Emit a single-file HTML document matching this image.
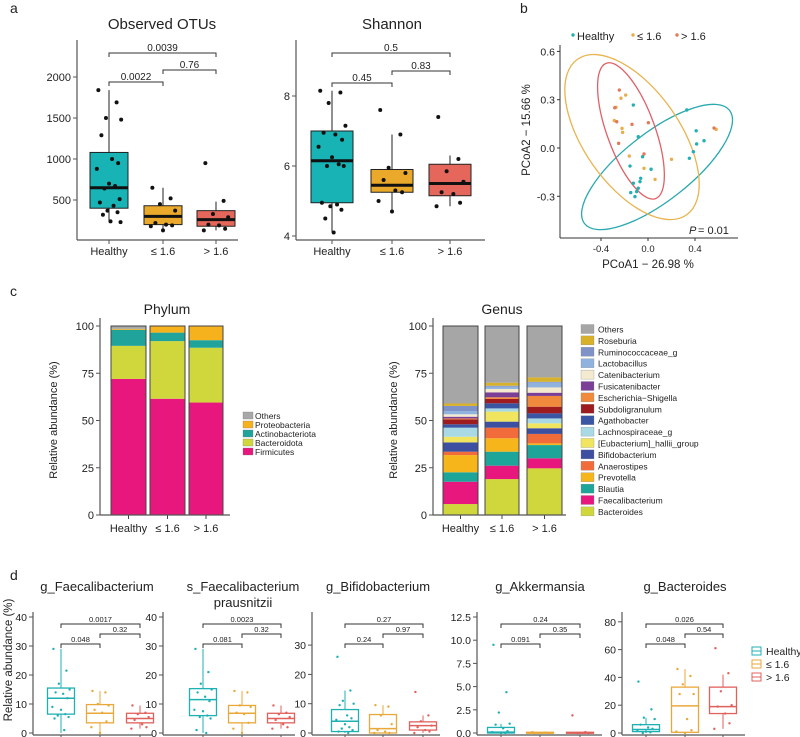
<!DOCTYPE html>
<html><head><meta charset="utf-8"><style>
html,body{margin:0;padding:0;background:#fff;}
svg{display:block;font-family:"Liberation Sans",Arial,sans-serif;}
</style></head>
<body>
<svg id="fig" width="800" height="737" viewBox="0 0 800 737" xmlns="http://www.w3.org/2000/svg"></svg>
<script>
// ---------- Panel a data ----------
const aGroups = ["Healthy", "≤ 1.6", "> 1.6"];
const otuStats = [[230,400,650,1080,1840],[130,200,300,430,650],[130,180,260,370,480]];
const otuPts = [[1840,1690,1500,1480,1290,1000,950,880,700,670,640,510,470,430,370,350,320,240,230],[650,520,450,370,220,200,190,180,130],[950,490,330,290,200,190,150,130]];
const otuTicks = [500,1000,1500,2000];
const otuBrackets = [[0,2,"0.0039"],[1,2,"0.76"],[0,1,"0.0022"]];
const shStats = [[4.1,4.95,6.15,7.0,8.15],[4.7,5.25,5.45,5.9,6.9],[4.85,5.15,5.5,6.05,6.3]];
const shPts = [[8.15,8.1,7.8,7.15,6.95,6.9,6.75,6.55,6.25,6.05,6.0,6.0,4.95,4.9,4.85,4.75,4.5,4.1],[7.6,6.9,5.95,5.8,5.6,5.3,5.25,5.0,4.7],[7.4,6.2,5.85,5.55,5.25,5.2,4.95,4.85]];
const shTicks = [4,6,8];
const shBrackets = [[0,2,"0.5"],[1,2,"0.83"],[0,1,"0.45"]];
// ---------- Panel b data ----------
const pcoaHealthy = [[-0.125,0.267],[0.33,0.236],[-0.083,0.07],[0.41,0.107],[0.414,0.025],[0.477,0.045],[0.386,-0.023],[0.352,-0.064],[-0.046,-0.054],[-0.153,-0.112],[0.026,-0.132],[-0.062,-0.188],[-0.125,-0.219],[-0.068,-0.209],[-0.083,-0.25],[-0.147,-0.277],[-0.111,-0.302],[-0.097,-0.271]];
const pcoaLow = [[-0.23,0.309],[-0.19,0.329],[-0.272,0.253],[-0.287,0.17],[-0.221,0.122],[-0.216,0.097],[-0.159,-0.05],[0.2,-0.07],[0.06,-0.195],[-0.034,-0.126],[0.58,0.116]];
const pcoaHigh = [[-0.244,0.36],[-0.25,0.029],[-0.136,0.147],[0.003,0.157],[-0.034,-0.037],[-0.266,0.163],[0.562,0.124],[-0.283,0.25]];
const pcoaXTicks = [-0.4,0.0,0.4];
const pcoaYTicks = [-0.3,0.0,0.3,0.6];
const ellipseCenters = [[0.077,-0.118],[-0.136,0.068],[-0.145,0.106]];
// ---------- Panel c data ----------
const phylumNames = ["Firmicutes","Bacteroidota","Actinobacteriota","Proteobacteria","Others"];
const phylumVals = [[72,17.5,8.5,0.5,1.5],[61.5,30.5,4.5,3.5,0],[59.5,29,4,7.5,0]];
const genusNames = ["Bacteroides","Faecalibacterium","Blautia","Prevotella","Anaerostipes","Bifidobacterium","[Eubacterium]_hallii_group","Lachnospiraceae_g","Agathobacter","Subdoligranulum","Escherichia−Shigella","Fusicatenibacter","Catenibacterium","Lactobacillus","Ruminococcaceae_g","Roseburia","Others"];
const genusVals = [
 [5.8,11.8,5,9.1,1.8,4.9,3,4.8,1.8,2.6,0.5,0.9,1.3,1.7,2.7,1.3,41],
 [19,7.1,7.4,7.1,5.6,3.2,5.3,1.7,2.7,2.3,0.9,2.6,1.8,1.2,0.5,1.6,30],
 [24.7,5.3,7,0.9,5,3,2.6,2.6,2.7,3.5,5.7,1.7,2.8,2.5,0.5,2.3,27.2]];
const stackTicks = [0,25,50,75,100];
// ---------- Panel d data ----------
const dTitles = [["g_Faecalibacterium"],["s_Faecalibacterium","prausnitzii"],["g_Bifidobacterium"],["g_Akkermansia"],["g_Bacteroides"]];
const dStats = [
 [[0,6.5,12,15.5,29],[0,3.5,6.8,9.8,14.5],[1.5,3.5,5,6.8,9.5]],
 [[0,6,11.5,15.3,29],[0,3.5,6.8,9.5,14.5],[1.5,3.5,5,6.8,9.5]],
 [[0,0.5,4,8,14.5],[0,0,1.5,6.3,9.5],[0,1,2.5,3.8,6]],
 [[0,0,0.1,0.6,1],[0,0,0.02,0.08,0.1],[0,0,0.02,0.08,0.1]],
 [[0,1,2.5,6,11],[0,0.5,19.5,33,46],[3,14,19,33,42]]];
const dPts = [
 [[29,21.5,17,15,14,13.5,12,9,8,6.5,6,5.5,5,1],[14.5,14,10,9.5,8,7,4,2,0],[9.5,7,6.5,5.5,4.5,3,2,1.5]],
 [[29,21,17,15,14,12.5,11,8,7.5,6,5.5,5,1,0],[14.5,14,9.5,9,7,6.5,3.5,1.5,0],[9.5,7,6.5,5.5,4.5,3,2,1.5]],
 [[26,14.5,11,10,9.5,6,5,4.5,3,2,1.5,1,0.5,0],[9.5,9,6,3,1,0.5,0,0],[14,6,4,2.5,2,1,0.5,0]],
 [[9.5,4.4,2.2,1,0.9,0.5,0.2,0.1,0,0],[0.1,0.05,0,0,0],[1.9,0.1,0,0]],
 [[37,17,11,10,6,4,3,2,1,0.5,0],[46,41,35,28,28,10,2,1,0],[61,43,30,20,19,14,7,3]]];
const dTicks = [[0,10,20,30,40],[0,10,20,30,40],[0,10,20,30],[0,2.5,5,7.5,10,12.5],[0,20,40,60,80]];
const dTickLabels = [["0","10","20","30","40"],["0","10","20","30","40"],["0","10","20","30"],["0.0","2.5","5.0","7.5","10.0","12.5"],["0","20","40","60","80"]];
const dBrackets = [
 [[0,2,"0.0017"],[1,2,"0.32"],[0,1,"0.048"]],
 [[0,2,"0.0023"],[1,2,"0.32"],[0,1,"0.081"]],
 [[0,2,"0.27"],[1,2,"0.97"],[0,1,"0.24"]],
 [[0,2,"0.24"],[1,2,"0.35"],[0,1,"0.091"]],
 [[0,2,"0.026"],[1,2,"0.54"],[0,1,"0.048"]]];

// ---------- helpers ----------
const NS = "http://www.w3.org/2000/svg";
const svg = document.getElementById('fig');
function mk(tag, attrs, parent, name) {
  const el = document.createElementNS(NS, tag);
  for (const k in attrs) el.setAttribute(k, attrs[k]);
  
  
  parent.appendChild(el);
  return el;
}
function txt(s, x, y, size, anchor, parent, name, extra) {
  const a = {x: x, y: y, 'font-size': size, 'text-anchor': anchor || 'middle', fill: '#222'};
  if (extra) for (const k in extra) a[k] = extra[k];
  const t = mk('text', a, parent, name);
  t.textContent = s;
  return t;
}
const jit = [-0.35,0.25,-0.1,0.4,-0.25,0.1,0.3,-0.4,0.0,0.2,-0.15,0.35,-0.3,0.15,-0.05,0.28,-0.2,0.05,0.38];
const groupCol = ['#17b3b5','#eaa92b','#e5675c'];
const groupLine = ['#1fb0b3','#e9a93a','#e0615c'];

function boxPanel(cfg, g) {
  const c = cfg;
  mk('line', {x1:c.ax, y1:c.top, x2:c.ax, y2:c.bot, stroke:'#555', 'stroke-width':1.2}, g, 'y-axis-line');
  mk('line', {x1:c.ax, y1:c.bot, x2:c.right, y2:c.bot, stroke:'#555', 'stroke-width':1.2}, g, 'x-axis-line');
  c.ticks.forEach((v,i) => {
    const y = c.y(v);
    mk('line', {x1:c.ax-4, y1:y, x2:c.ax, y2:y, stroke:'#555'}, g, 'y-tick');
    txt(c.tickLabels ? c.tickLabels[i] : String(v), c.ax-6, y+4, c.tfs, 'end', g, 'y-tick-label');
  });
  c.xs.forEach((x,i) => {
    mk('line', {x1:x, y1:c.bot, x2:x, y2:c.bot+4, stroke:'#555'}, g, 'x-tick');
    if (c.xlab) txt(aGroups[i], x, c.bot+15, 11, 'middle', g, 'x-tick-label');
  });
  c.stats.forEach((s,i) => {
    const x = c.xs[i], w = c.bw;
    const st = c.filled ? '#222' : groupLine[i];
    mk('line', {x1:x, y1:c.y(s[0]), x2:x, y2:c.y(s[4]), stroke:st, 'stroke-width':1}, g, 'whisker');
    mk('rect', {x:x-w/2, y:c.y(s[3]), width:w, height:Math.max(1,c.y(s[1])-c.y(s[3])), fill:c.filled?groupCol[i]:'#fff', stroke:st, 'stroke-width':c.filled?1:1.3}, g, 'box-'+i);
    mk('line', {x1:x-w/2, y1:c.y(s[2]), x2:x+w/2, y2:c.y(s[2]), stroke:c.filled?'#111':groupLine[i], 'stroke-width':c.filled?3:1.5}, g, 'median-line');
  });
  c.pts.forEach((arr,i) => {
    arr.forEach((v,j) => {
      mk('circle', {cx:c.xs[i]+jit[j%jit.length]*c.bw*0.8, cy:c.y(v), r:c.pr, fill:c.filled?'#111':groupLine[i]}, g, 'data-point');
    });
  });
  c.brackets.forEach((b,k) => {
    const yb = c.by[k];
    const x1 = c.xs[b[0]], x2 = c.xs[b[1]];
    mk('path', {d:`M${x1} ${yb+4}V${yb}H${x2}V${yb+4}`, fill:'none', stroke:'#333', 'stroke-width':1}, g, 'significance-bracket');
    txt(b[2], (x1+x2)/2, yb-2, c.bfs, 'middle', g, 'p-value-label');
  });
}

// ---------- Panel a ----------
txt('a', 10, 13, 14, 'start', svg, 'panel-label-a');
const ga1 = mk('g', {}, svg, 'observed-otus-chart');
txt('Observed OTUs', 162, 29, 15, 'middle', ga1, 'chart-title');
boxPanel({ax:77, top:40, bot:240, right:238, y:v=>241-v*0.082, ticks:otuTicks, tfs:11, xs:[109,163,216], bw:38, stats:otuStats, pts:otuPts, filled:true, pr:2, brackets:otuBrackets, by:[53,70,82], bfs:10, xlab:true}, ga1);
const ga2 = mk('g', {}, svg, 'shannon-chart');
txt('Shannon', 392, 29, 15, 'middle', ga2, 'chart-title');
boxPanel({ax:296, top:40, bot:240, right:485, y:v=>236-(v-4)*35, ticks:shTicks, tfs:11, xs:[332,392,450], bw:42, stats:shStats, pts:shPts, filled:true, pr:2, brackets:shBrackets, by:[53,71,83], bfs:10, xlab:true}, ga2);

// ---------- Panel b ----------
txt('b', 520, 13, 14, 'start', svg, 'panel-label-b');
const gb = mk('g', {}, svg, 'pcoa-chart');
const px = v => 648 + v*117.5, py = v => 148 - v*161;
mk('line', {x1:560, y1:45, x2:560, y2:238, stroke:'#333'}, gb, 'y-axis-line');
mk('line', {x1:560, y1:238, x2:738, y2:238, stroke:'#333'}, gb, 'x-axis-line');
pcoaYTicks.forEach(v => {
  mk('line', {x1:557, y1:py(v), x2:560, y2:py(v), stroke:'#333'}, gb, 'y-tick');
  txt(v.toFixed(1), 555, py(v)+4, 10.5, 'end', gb, 'y-tick-label');
});
pcoaXTicks.forEach(v => {
  mk('line', {x1:px(v), y1:238, x2:px(v), y2:241, stroke:'#333'}, gb, 'x-tick');
  txt(v.toFixed(1), px(v), 252, 9.5, 'middle', gb, 'x-tick-label');
});
txt('PCoA1 − 26.98 %', 648, 268, 11.5, 'middle', gb, 'x-axis-title');
txt('PCoA2 − 15.66 %', 0, 0, 11.5, 'middle', gb, 'y-axis-title', {transform:'translate(530,130) rotate(-90)'});
txt('P', 689, 234, 11, 'start', gb, 'p-label', {'font-style':'italic'});
txt('= 0.01', 698, 234, 11, 'start', gb, 'p-value');
const ellShape = [[92,34,-38],[95,48,55],[72,24,70]];
const ellCol = ['#2aa9ae','#e8b44e','#e06067'];
ellipseCenters.forEach((c,i) => {
  const cx = px(c[0]), cy = py(c[1]);
  mk('ellipse', {cx:cx, cy:cy, rx:ellShape[i][0], ry:ellShape[i][1], transform:`rotate(${ellShape[i][2]} ${cx} ${cy})`, fill:'none', stroke:ellCol[i], 'stroke-width':1.3}, gb, 'confidence-ellipse');
});
[[pcoaHealthy,'#22b0b3'],[pcoaLow,'#e9ad4c'],[pcoaHigh,'#e07a5a']].forEach(([arr,col]) => {
  arr.forEach(p => {
    mk('circle', {cx:px(p[0]), cy:py(p[1]), r:1.7, fill:col}, gb, 'pcoa-point');
  });
});
const legB = [['Healthy',577,'#22b0b3'],['≤ 1.6',637,'#e9ad4c'],['> 1.6',681,'#e07a5a']];
legB.forEach(l => {
  mk('circle', {cx:l[1]-4, cy:35, r:1.7, fill:l[2]}, gb, 'legend-marker');
  txt(l[0], l[1], 40, 11, 'start', gb, 'legend-entry');
});

// ---------- Panel c ----------
txt('c', 10, 296, 14, 'start', svg, 'panel-label-c');
function stack(g, ax, right, bars, vals, cols, title, tx) {
  const y = v => 515 - v*1.89;
  txt(title, tx, 314, 14, 'middle', g, 'chart-title');
  vals.forEach((row,i) => {
    let acc = 0;
    row.forEach((v,k) => {
      if (v > 0) mk('rect', {x:bars[i][0], y:y(acc+v), width:bars[i][1]-bars[i][0], height:v*1.89, fill:cols[k]}, g, 'stack-segment');
      acc += v;
    });
    mk('rect', {x:bars[i][0], y:y(100), width:bars[i][1]-bars[i][0], height:100*1.89, fill:'none', stroke:'#444', 'stroke-width':1}, g, 'bar-outline');
    const cx = (bars[i][0]+bars[i][1])/2;
    mk('line', {x1:cx, y1:515, x2:cx, y2:519, stroke:'#444'}, g, 'x-tick');
    txt(aGroups[i], cx, 532, 11, 'middle', g, 'x-tick-label');
  });
  mk('line', {x1:ax, y1:318, x2:ax, y2:515, stroke:'#555', 'stroke-width':1.2}, g, 'y-axis-line');
  mk('line', {x1:ax, y1:515, x2:right, y2:515, stroke:'#555', 'stroke-width':1.2}, g, 'x-axis-line');
  stackTicks.forEach(v => {
    mk('line', {x1:ax-4, y1:y(v), x2:ax, y2:y(v), stroke:'#555'}, g, 'y-tick');
    txt(String(v), ax-6, y(v)+4, 11, 'end', g, 'y-tick-label');
  });
}
const phylumCols = ['#e8177d','#cfd73c','#20a39a','#f5b21d','#a8a8a8'];
const gc1 = mk('g', {}, svg, 'phylum-chart');
stack(gc1, 100, 230, [[111,146],[150,185],[189,223]], phylumVals, phylumCols, 'Phylum', 167);
txt('Relative abundance (%)', 0, 0, 11, 'middle', gc1, 'y-axis-title', {transform:'translate(57,420) rotate(-90)'});
phylumNames.slice().reverse().forEach((n,i) => {
  const yy = 416 + i*9;
  mk('rect', {x:243, y:yy-4, width:10, height:7, fill:phylumCols[4-i], stroke:'#777', 'stroke-width':0.3}, gc1, 'legend-swatch');
  txt(n, 255, yy+3, 8.5, 'start', gc1, 'legend-entry');
});
const genusCols = ['#cfd73c','#e8177d','#1ea59a','#f7b51c','#f26b3a','#3d4fa1','#f1e55f','#a9d9e4','#3a55a4','#9e1b20','#f08a3c','#7b3f98','#f3ead0','#8fb3de','#7f92c8','#d8b12a','#a6a6a6'];
const gc2 = mk('g', {}, svg, 'genus-chart');
stack(gc2, 433, 566, [[443,478],[485,519],[527,562]], genusVals, genusCols, 'Genus', 502);
txt('Relative abundance (%)', 0, 0, 11, 'middle', gc2, 'y-axis-title', {transform:'translate(397,420) rotate(-90)'});
genusNames.slice().reverse().forEach((n,i) => {
  const yy = 329 + i*11.4;
  mk('rect', {x:581, y:yy-4.5, width:13, height:9, fill:genusCols[16-i], stroke:'#888', 'stroke-width':0.3}, gc2, 'legend-swatch');
  txt(n, 598, yy+3.5, 8.5, 'start', gc2, 'legend-entry');
});

// ---------- Panel d ----------
txt('d', 10, 580, 14, 'start', svg, 'panel-label-d');
txt('Relative abundance (%)', 0, 0, 11.5, 'middle', svg, 'y-axis-title-d', {transform:'translate(12,660) rotate(-90)'});
const dLayout = [
  {ax:33, xs:[61,100,140], y:v=>733-v*2.9, tx:97, right:152},
  {ax:163, xs:[203,242,281], y:v=>733-v*2.9, tx:243, right:295},
  {ax:312, xs:[345,383,423], y:v=>733-v*2.93, tx:378, right:440},
  {ax:477, xs:[501,540,580], y:v=>733-v*9.28, tx:540, right:602},
  {ax:622, xs:[646,685,723], y:v=>733-v*1.39, tx:685, right:745}];
dLayout.forEach((L,i) => {
  const g = mk('g', {}, svg, 'boxplot-'+dTitles[i][0].toLowerCase().replace(/_/g,'-'));
  dTitles[i].forEach((t,k) => txt(t, L.tx, 591+k*16, 13, 'middle', g, 'chart-title'));
  boxPanel({ax:L.ax, top:612, bot:735, right:L.right, y:L.y, ticks:dTicks[i], tickLabels:dTickLabels[i], tfs:10.5, xs:L.xs, bw:27, stats:dStats[i], pts:dPts[i], filled:false, pr:1.2, brackets:dBrackets[i], by:[624,634,644], bfs:7.5, xlab:false}, g);
});
const gl = mk('g', {}, svg, 'legend-d');
['Healthy','≤ 1.6','> 1.6'].forEach((n,i) => {
  const yy = 651 + i*13;
  mk('rect', {x:752, y:yy-4, width:9, height:8, fill:'#fff', stroke:groupLine[i], 'stroke-width':1}, gl, 'legend-icon');
  mk('line', {x1:752, y1:yy, x2:761, y2:yy, stroke:groupLine[i]}, gl, 'legend-icon-median');
  txt(n, 766, yy+4, 10.5, 'start', gl, 'legend-entry');
});
</script>
</body></html>
